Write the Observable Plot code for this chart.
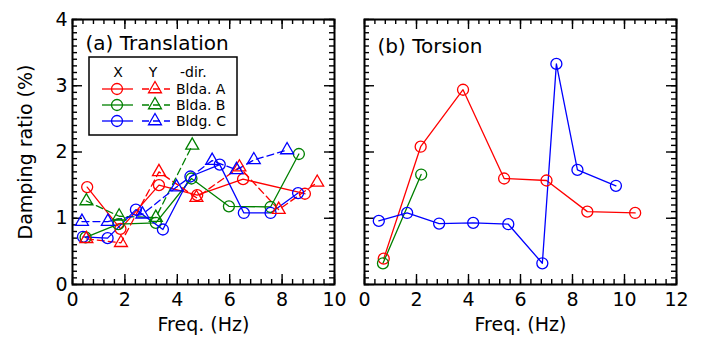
<!DOCTYPE html>
<html><head><meta charset="utf-8">
<script src="https://cdn.jsdelivr.net/npm/d3@7"></script>
<script src="https://cdn.jsdelivr.net/npm/@observablehq/plot@0.6"></script>
<style>
body{margin:0;background:#fff;}
#wrap{position:relative;width:701px;height:338px;font-family:"DejaVu Sans",sans-serif;}
#wrap svg{position:absolute;top:0;}
</style></head><body><div id="wrap"></div>
<script>
// ---------- data ----------
const COLORS = {A: "#ff0000", B: "#008000", C: "#0000ff"};
const buildings = ["A", "B", "C"];
const legendLabels = ["Blda. A", "Blda. B", "Bldg. C"];

// (a) Translation: X-dir (circles, solid), Y-dir (triangles, dashed)
const transA_X_freq = [0.56, 1.83, 3.30, 4.76, 6.51, 8.87];
const transA_X_damp = [1.47, 0.84, 1.50, 1.35, 1.59, 1.37];
const transA_Y_freq = [0.53, 1.85, 3.30, 4.73, 6.37, 7.87, 9.34];
const transA_Y_damp = [0.69, 0.63, 1.70, 1.31, 1.77, 1.13, 1.54];
const transB_X_freq = [0.50, 1.75, 3.18, 4.54, 5.97, 7.56, 8.64];
const transB_X_damp = [0.71, 0.91, 0.93, 1.60, 1.18, 1.17, 1.97];
const transB_Y_freq = [0.53, 1.78, 3.18, 4.57];
const transB_Y_damp = [1.26, 1.03, 1.01, 2.10];
const transC_X_freq = [0.40, 1.34, 2.42, 3.45, 4.50, 5.62, 6.54, 7.56, 8.61];
const transC_X_damp = [0.72, 0.70, 1.13, 0.83, 1.63, 1.81, 1.08, 1.08, 1.38];
const transC_Y_freq = [0.36, 1.35, 2.67, 3.97, 5.33, 6.26, 6.92, 8.19];
const transC_Y_damp = [0.95, 0.95, 1.06, 1.47, 1.87, 1.73, 1.88, 2.03];

// (b) Torsion
const torsA_freq = [0.74, 2.16, 3.79, 5.37, 7.00, 8.57, 10.41];
const torsA_damp = [0.39, 2.08, 2.94, 1.60, 1.57, 1.10, 1.08];
const torsB_freq = [0.71, 2.18];
const torsB_damp = [0.32, 1.66];
const torsC_freq = [0.55, 1.64, 2.87, 4.18, 5.53, 6.84, 7.38, 8.19, 9.67];
const torsC_damp = [0.96, 1.08, 0.92, 0.93, 0.91, 0.32, 3.33, 1.73, 1.49];

// axes
const yMajor = [0, 1, 2, 3, 4];
const yMinor = d3.range(0, 4.001, 0.1);
const xMajorA = [0, 2, 4, 6, 8, 10];
const xMinorA = d3.range(0, 10.001, 0.4);
const xMajorB = [0, 2, 4, 6, 8, 10, 12];
const xMinorB = d3.range(0, 12.001, 0.4);
const xLabel = "Freq. (Hz)";
const yLabel = "Damping ratio (%)";

function rows(b, dir, f, d) { return f.map((v, i) => ({bldg: b, dir, f: v, d: d[i], color: COLORS[b]})); }

const transX = [...rows("A","X",transA_X_freq,transA_X_damp), ...rows("B","X",transB_X_freq,transB_X_damp), ...rows("C","X",transC_X_freq,transC_X_damp)];
const transY = [...rows("A","Y",transA_Y_freq,transA_Y_damp), ...rows("B","Y",transB_Y_freq,transB_Y_damp), ...rows("C","Y",transC_Y_freq,transC_Y_damp)];
const tors = [...rows("A","T",torsA_freq,torsA_damp), ...rows("B","T",torsB_freq,torsB_damp), ...rows("C","T",torsC_freq,torsC_damp)];

const H = 338, MT = 19, MB = 54;
const plotH = H - MT - MB;
const FONT = "DejaVu Sans";
const R_CIRC = 5.5, R_TRI = 4.8;

function frameMarks(xMajor, xMinor, plotW) {
  const sw = 1.4;
  return [
    Plot.tickX(xMinor, {x: d => d, insetTop: plotH - 5, stroke: "black", strokeWidth: sw}),
    Plot.tickX(xMinor, {x: d => d, insetBottom: plotH - 5, stroke: "black", strokeWidth: sw}),
    Plot.tickX(xMajor, {x: d => d, insetTop: plotH - 10, stroke: "black", strokeWidth: sw}),
    Plot.tickX(xMajor, {x: d => d, insetBottom: plotH - 10, stroke: "black", strokeWidth: sw}),
    Plot.tickY(yMinor, {y: d => d, insetRight: plotW - 5, stroke: "black", strokeWidth: sw}),
    Plot.tickY(yMinor, {y: d => d, insetLeft: plotW - 5, stroke: "black", strokeWidth: sw}),
    Plot.tickY(yMajor, {y: d => d, insetRight: plotW - 10, stroke: "black", strokeWidth: sw}),
    Plot.tickY(yMajor, {y: d => d, insetLeft: plotW - 10, stroke: "black", strokeWidth: sw}),
    Plot.frame({stroke: "black", strokeWidth: 2})
  ];
}

// ---------- panel (a) ----------
const WA = 345, MLA = 72, MRA = 11;
const plotA = Plot.plot({
  width: WA, height: H, marginLeft: MLA, marginRight: MRA, marginTop: MT, marginBottom: MB,
  x: {domain: [0, 10], axis: null},
  y: {domain: [0, 4], axis: null},
  color: {type: "identity"},
  style: {fontFamily: FONT, fontSize: "19px", background: "transparent", overflow: "visible"},
  marks: [
    ...frameMarks(xMajorA, xMinorA, WA - MLA - MRA),
    Plot.line(transX, {x: "f", y: "d", z: "bldg", stroke: "color", strokeWidth: 1.3}),
    Plot.line(transY, {x: "f", y: "d", z: "bldg", stroke: "color", strokeWidth: 1.3, strokeDasharray: "7,4"}),
    Plot.dot(transX, {x: "f", y: "d", stroke: "color", fill: "none", symbol: "circle", r: R_CIRC, strokeWidth: 1.3}),
    Plot.dot(transY, {x: "f", y: "d", stroke: "color", fill: "none", symbol: "triangle", r: R_TRI, strokeWidth: 1.3}),
    Plot.text(yMajor, {y: d => d, text: d => String(d), frameAnchor: "left", dx: -5, textAnchor: "end", fontSize: 19, fill: "black"}),
    Plot.text(xMajorA, {x: d => d, text: d => String(d), frameAnchor: "bottom", dy: 15, lineAnchor: "middle", fontSize: 19, fill: "black"}),
    Plot.text([xLabel], {text: d => d, frameAnchor: "bottom", dy: 40, lineAnchor: "middle", textAnchor: "middle", fontSize: 19, fill: "black"}),
    Plot.text([yLabel], {text: d => d, frameAnchor: "left", dx: -47, rotate: -90, lineAnchor: "middle", textAnchor: "middle", fontSize: 19, fill: "black"}),
    Plot.text(["(a) Translation"], {text: d => d, frameAnchor: "top-left", dx: 13, dy: 24, textAnchor: "start", lineAnchor: "middle", fontSize: 20, fill: "black"})
  ]
});
plotA.style.left = "0px";

// ---------- panel (b) ----------
const WB = 356, MLB = 19, MRB = 25;
const plotB = Plot.plot({
  width: WB, height: H, marginLeft: MLB, marginRight: MRB, marginTop: MT, marginBottom: MB,
  x: {domain: [0, 12], axis: null},
  y: {domain: [0, 4], axis: null},
  color: {type: "identity"},
  style: {fontFamily: FONT, fontSize: "19px", background: "transparent", overflow: "visible"},
  marks: [
    ...frameMarks(xMajorB, xMinorB, WB - MLB - MRB),
    Plot.line(tors, {x: "f", y: "d", z: "bldg", stroke: "color", strokeWidth: 1.3}),
    Plot.dot(tors, {x: "f", y: "d", stroke: "color", fill: "none", symbol: "circle", r: R_CIRC, strokeWidth: 1.3}),
    Plot.text(xMajorB, {x: d => d, text: d => String(d), frameAnchor: "bottom", dy: 15, lineAnchor: "middle", fontSize: 19, fill: "black"}),
    Plot.text([xLabel], {text: d => d, frameAnchor: "bottom", dy: 40, lineAnchor: "middle", textAnchor: "middle", fontSize: 19, fill: "black"}),
    Plot.text(["(b) Torsion"], {text: d => d, frameAnchor: "top-left", dx: 13, dy: 27, textAnchor: "start", lineAnchor: "middle", fontSize: 20, fill: "black"})
  ]
});
plotB.style.left = WA + "px";

const wrap = document.getElementById("wrap");
wrap.appendChild(plotA);
wrap.appendChild(plotB);

// ---------- legend (overlay in panel a) ----------
const leg = d3.create("svg").attr("width", 701).attr("height", 338)
  .style("left", "0px").style("pointer-events", "none")
  .attr("font-family", FONT);
leg.append("rect").attr("x", 89).attr("y", 57).attr("width", 148).attr("height", 78)
  .attr("fill", "white").attr("stroke", "black").attr("stroke-width", 1.5);
const hdr = [{t: "X", x: 118, a: "middle"}, {t: "Y", x: 153, a: "middle"}, {t: "-dir.", x: 180, a: "start"}];
hdr.forEach(h => leg.append("text").attr("x", h.x).attr("y", 72).attr("dy", "0.35em")
  .attr("text-anchor", h.a).attr("font-size", 14).text(h.t));
const triPath = d3.symbol(d3.symbolTriangle, Math.PI * R_TRI * R_TRI)();
buildings.forEach((b, i) => {
  const y = 89 + i * 16, c = COLORS[b];
  leg.append("line").attr("x1", 102).attr("x2", 133).attr("y1", y).attr("y2", y).attr("stroke", c).attr("stroke-width", 1.3);
  leg.append("circle").attr("cx", 117).attr("cy", y).attr("r", R_CIRC).attr("fill", "none").attr("stroke", c).attr("stroke-width", 1.3);
  leg.append("line").attr("x1", 142).attr("x2", 170).attr("y1", y).attr("y2", y).attr("stroke", c).attr("stroke-width", 1.3).attr("stroke-dasharray", "7,4");
  leg.append("path").attr("d", triPath).attr("transform", `translate(155,${y})`).attr("fill", "none").attr("stroke", c).attr("stroke-width", 1.3);
  leg.append("text").attr("x", 176).attr("y", y).attr("dy", "0.35em").attr("font-size", 14).text(legendLabels[i]);
});
wrap.appendChild(leg.node());
</script>
</body></html>
